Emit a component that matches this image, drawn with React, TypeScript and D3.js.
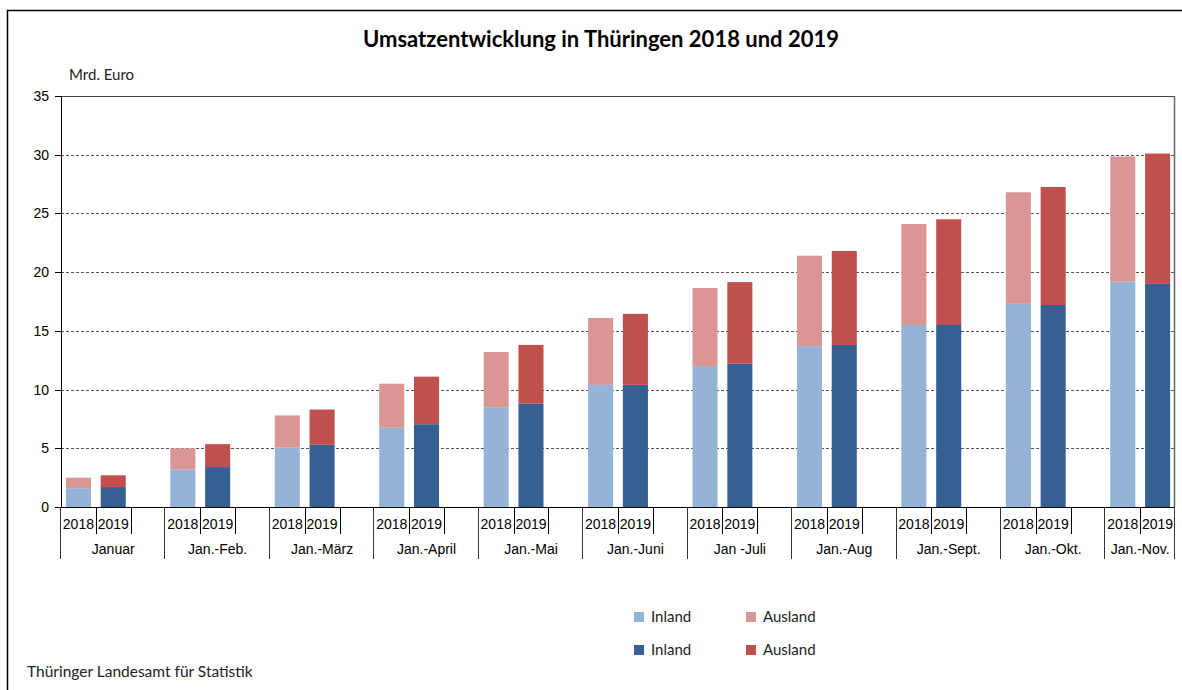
import React, { useEffect, useRef } from "react";
import * as d3 from "d3";

const periods = ["Januar", "Jan.-Feb.", "Jan.-März", "Jan.-April", "Jan.-Mai", "Jan.-Juni", "Jan -Juli", "Jan.-Aug", "Jan.-Sept.", "Jan.-Okt.", "Jan.-Nov."];
const years = ["2018", "2019"];
// Mrd. Euro
const inland2018 = [1.6, 3.2, 5.05, 6.75, 8.5, 10.4, 12.0, 13.7, 15.5, 17.3, 19.2];
const total2018 = [2.5, 5.0, 7.8, 10.5, 13.2, 16.1, 18.65, 21.4, 24.1, 26.8, 29.85];
const inland2019 = [1.7, 3.4, 5.3, 7.05, 8.8, 10.4, 12.2, 13.8, 15.5, 17.2, 19.0];
const total2019 = [2.7, 5.35, 8.3, 11.1, 13.8, 16.45, 19.15, 21.8, 24.5, 27.25, 30.1];
const yTicks = [0, 5, 10, 15, 20, 25, 30, 35];

const colors: Record<string, string> = {
  inland2018: "#95B3D7",
  ausland2018: "#DA9694",
  inland2019: "#366092",
  ausland2019: "#C0504D",
};

const W = 1182;
const H = 690;
const margin = { left: 61, right: 7, top: 96, bottom: 183 };

const App: React.FC = () => {
  const svgRef = useRef<SVGSVGElement | null>(null);

  useEffect(() => {
    if (!svgRef.current) return;
    const svg = d3.select(svgRef.current);
    svg.selectAll("*").remove();

    const x0 = margin.left;
    const x1 = W - margin.right;
    const yTop = margin.top;
    const yBot = H - margin.bottom;

    // slots: 2018, 2019, gap for each period (no gap after the last one)
    const slots: string[] = [];
    periods.forEach((_, i) => {
      slots.push(`${i}-0`, `${i}-1`);
      if (i < periods.length - 1) slots.push(`${i}-gap`);
    });

    const x = d3.scaleBand<string>().domain(slots).range([x0, x1]).padding(0);
    const y = d3.scaleLinear().domain([0, 35]).range([yBot, yTop]);
    const bw = x.bandwidth();

    // outer frame (right and bottom edges fall outside the picture)
    svg.append("rect")
      .attr("x", 7.5).attr("y", 10.5)
      .attr("width", W + 20).attr("height", H + 20)
      .attr("fill", "white").attr("stroke", "#000").attr("stroke-width", 1.5);

    // title
    svg.append("text")
      .attr("x", 601).attr("y", 47)
      .attr("text-anchor", "middle")
      .style("font-family", "Lato, 'Open Sans', sans-serif")
      .style("font-weight", "bold")
      .style("font-size", "22px")
      .text("Umsatzentwicklung in Thüringen 2018 und 2019");

    svg.append("text")
      .attr("x", 69).attr("y", 80)
      .style("font-family", "Lato, 'Open Sans', sans-serif")
      .style("font-size", "15px")
      .attr("fill", "#222")
      .text("Mrd. Euro");

    // grid
    svg.append("g").selectAll("line")
      .data(yTicks.filter((t) => t > 0 && t < 35))
      .enter().append("line")
      .attr("x1", x0).attr("x2", x1)
      .attr("y1", (d) => Math.round(y(d)) + 0.5).attr("y2", (d) => Math.round(y(d)) + 0.5)
      .attr("stroke", "#555").attr("stroke-dasharray", "3,2");

    // top and right border of plot
    svg.append("line").attr("x1", x0).attr("x2", x1).attr("y1", y(35) + 0.5).attr("y2", y(35) + 0.5).attr("stroke", "#444");
    svg.append("line").attr("x1", x1 - 0.5).attr("x2", x1 - 0.5).attr("y1", y(35)).attr("y2", y(0)).attr("stroke", "#666").attr("stroke-width", 1.5);

    // bars
    const barW = bw * 0.72;
    const barOff = (bw - barW) / 2;
    const series = [
      { yr: 0, inl: inland2018, tot: total2018, cIn: colors.inland2018, cAus: colors.ausland2018 },
      { yr: 1, inl: inland2019, tot: total2019, cIn: colors.inland2019, cAus: colors.ausland2019 },
    ];
    const barsG = svg.append("g");
    series.forEach((s) => {
      const rows = periods.map((p, i) => ({ key: `${i}-${s.yr}`, inl: s.inl[i], tot: s.tot[i] }));
      barsG.selectAll(null).data(rows).enter().append("rect")
        .attr("x", (d) => (x(d.key) as number) + barOff)
        .attr("width", barW)
        .attr("y", (d) => y(d.inl))
        .attr("height", (d) => y(0) - y(d.inl))
        .attr("fill", s.cIn);
      barsG.selectAll(null).data(rows).enter().append("rect")
        .attr("x", (d) => (x(d.key) as number) + barOff)
        .attr("width", barW)
        .attr("y", (d) => y(d.tot))
        .attr("height", (d) => y(d.inl) - y(d.tot))
        .attr("fill", s.cAus);
    });

    // y axis
    svg.append("line").attr("x1", x0 + 0.5).attr("x2", x0 + 0.5).attr("y1", y(35)).attr("y2", y(0)).attr("stroke", "#000");
    const yAx = svg.append("g");
    yAx.selectAll("line").data(yTicks).enter().append("line")
      .attr("x1", x0 - 6).attr("x2", x0)
      .attr("y1", (d) => Math.round(y(d)) + 0.5).attr("y2", (d) => Math.round(y(d)) + 0.5)
      .attr("stroke", "#000");
    yAx.selectAll("text").data(yTicks).enter().append("text")
      .attr("x", x0 - 12).attr("y", (d) => y(d) + 5)
      .attr("text-anchor", "end")
      .style("font-family", "'Liberation Sans', Arial, sans-serif")
      .style("font-size", "14px")
      .text((d) => d);

    // x axis
    svg.append("line").attr("x1", x0).attr("x2", x1).attr("y1", y(0) + 0.5).attr("y2", y(0) + 0.5).attr("stroke", "#000");
    const xAx = svg.append("g");
    const shortTicks: number[] = [];
    const longTicks: number[] = [];
    periods.forEach((_, i) => {
      longTicks.push(x(`${i}-0`) as number);
      shortTicks.push(x(`${i}-1`) as number);
      if (i < periods.length - 1) shortTicks.push(x(`${i}-gap`) as number);
    });
    longTicks.push(x1);
    xAx.selectAll(null).data(shortTicks).enter().append("line")
      .attr("x1", (d) => Math.round(d) + 0.5).attr("x2", (d) => Math.round(d) + 0.5)
      .attr("y1", y(0)).attr("y2", y(0) + 27)
      .attr("stroke", "#000");
    xAx.selectAll(null).data(longTicks).enter().append("line")
      .attr("x1", (d) => Math.round(d) - 0.5).attr("x2", (d) => Math.round(d) - 0.5)
      .attr("y1", y(0)).attr("y2", y(0) + 52)
      .attr("stroke", "#333");

    const yearLabels: { key: string; label: string }[] = [];
    periods.forEach((_, i) => years.forEach((yr, j) => yearLabels.push({ key: `${i}-${j}`, label: yr })));
    xAx.selectAll(null).data(yearLabels).enter().append("text")
      .attr("x", (d) => (x(d.key) as number) + bw / 2)
      .attr("y", y(0) + 22)
      .attr("text-anchor", "middle")
      .style("font-family", "'Liberation Sans', Arial, sans-serif")
      .style("font-size", "14px")
      .text((d) => d.label);

    xAx.selectAll(null).data(periods).enter().append("text")
      .attr("x", (d, i) => {
        const start = x(`${i}-0`) as number;
        const end = i < periods.length - 1 ? (x(`${i + 1}-0`) as number) : x1;
        return (start + end) / 2;
      })
      .attr("y", y(0) + 47)
      .attr("text-anchor", "middle")
      .style("font-family", "'Liberation Sans', Arial, sans-serif")
      .style("font-size", "14px")
      .text((d) => d);

    // legend
    const legend = [
      { label: "Inland", color: colors.inland2018, col: 0, row: 0 },
      { label: "Ausland", color: colors.ausland2018, col: 1, row: 0 },
      { label: "Inland", color: colors.inland2019, col: 0, row: 1 },
      { label: "Ausland", color: colors.ausland2019, col: 1, row: 1 },
    ];
    const lg = svg.append("g").attr("transform", "translate(634, 612)");
    const items = lg.selectAll(null).data(legend).enter().append("g")
      .attr("transform", (d) => `translate(${d.col * 112}, ${d.row * 33})`);
    items.append("rect").attr("width", 10).attr("height", 10).attr("fill", (d) => d.color);
    items.append("text")
      .attr("x", 17).attr("y", 10)
      .style("font-family", "Lato, 'Open Sans', sans-serif")
      .style("font-size", "15px")
      .attr("fill", "#222")
      .text((d) => d.label);

    svg.append("text")
      .attr("x", 27).attr("y", 677)
      .style("font-family", "Lato, 'Open Sans', sans-serif")
      .style("font-size", "15.5px")
      .attr("fill", "#222")
      .text("Thüringer Landesamt für Statistik");
  }, []);

  return (
    <svg ref={svgRef} width={W} height={H} style={{ position: "absolute", left: 0, top: 0, background: "white" }} />
  );
};

export default App;
